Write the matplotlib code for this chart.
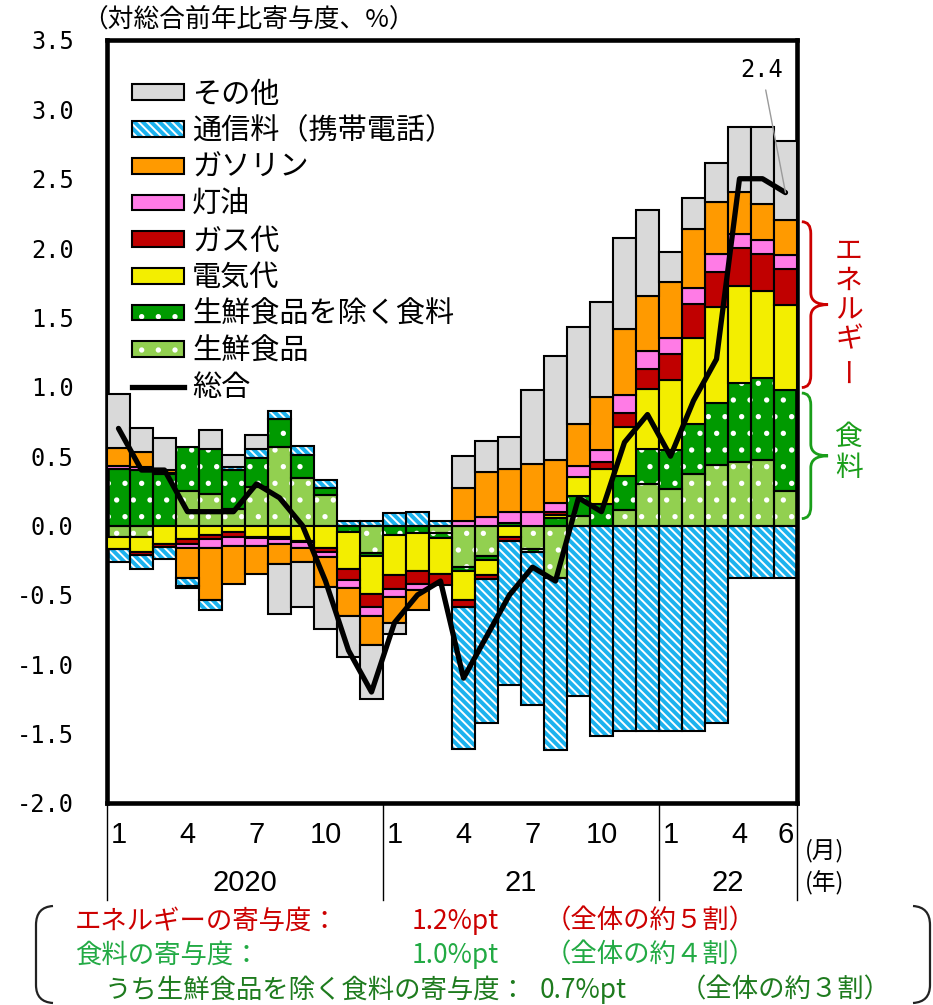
import matplotlib
matplotlib.use('Agg')
import matplotlib.pyplot as plt
import matplotlib.transforms as mtransforms
from matplotlib import font_manager
from matplotlib.patches import Patch, PathPatch
from matplotlib.lines import Line2D
from matplotlib.path import Path
from matplotlib.legend_handler import HandlerTuple
import numpy as np

plt.rcParams['font.family'] = ['Noto Sans CJK JP', 'DejaVu Sans']
plt.rcParams['hatch.linewidth'] = 1.4

# 2020/1 - 2022/6, contributions to headline CPI (%pt)
month_ticks = [0, 3, 6, 9, 12, 15, 18, 21, 24, 27, 29]
month_labels = ['1', '4', '7', '10', '1', '4', '7', '10', '1', '4', '6']
year_labels = ['2020', '21', '22']
year_bounds = [0, 12, 24, 30]

fresh_food = [-0.08, -0.08, 0.0, 0.25, 0.23, 0.12, 0.28, 0.565, 0.34, 0.22,
              0.0, -0.20, 0.0, 0.0, -0.055, -0.30, -0.22, 0.0, -0.17, -0.38,
              0.07, 0.0, 0.11, 0.30, 0.265, 0.37, 0.435, 0.46, 0.47, 0.25]
food_ex_fresh = [0.41, 0.40, 0.37, 0.315, 0.32, 0.28, 0.21, 0.205, 0.17, 0.05,
                 -0.05, -0.02, -0.065, -0.055, -0.035, -0.03, -0.03, 0.02, -0.02, 0.055,
                 0.145, 0.155, 0.25, 0.253, 0.276, 0.36, 0.445, 0.57, 0.595, 0.725]
electricity = [-0.09, -0.11, -0.13, -0.10, -0.07, -0.05, -0.08, -0.08, -0.11, -0.16,
               -0.26, -0.27, -0.29, -0.27, -0.26, -0.21, -0.105, -0.085, 0.0, 0.02,
               0.135, 0.25, 0.35, 0.433, 0.505, 0.625, 0.695, 0.70, 0.625, 0.615]
city_gas = [0.0, -0.025, -0.025, -0.03, -0.025, -0.035, -0.01, -0.015, -0.01, -0.03,
            -0.08, -0.10, -0.10, -0.095, -0.075, -0.05, -0.03, -0.03, 0.0, 0.02,
            0.0, 0.05, 0.10, 0.144, 0.193, 0.24, 0.255, 0.27, 0.27, 0.26]
kerosene = [0.02, 0.02, 0.01, -0.03, -0.07, -0.065, -0.06, -0.035, -0.04, -0.04,
            -0.06, -0.06, -0.06, -0.045, 0.0, 0.03, 0.06, 0.075, 0.096, 0.065,
            0.08, 0.09, 0.13, 0.128, 0.115, 0.12, 0.125, 0.10, 0.10, 0.10]
gasoline = [0.13, 0.11, 0.02, -0.22, -0.375, -0.27, -0.20, -0.145, -0.105, -0.215,
            -0.20, -0.21, -0.19, -0.145, 0.0, 0.24, 0.325, 0.315, 0.35, 0.31,
            0.30, 0.38, 0.48, 0.394, 0.40, 0.42, 0.375, 0.305, 0.26, 0.25]
mobile = [-0.095, -0.095, -0.085, -0.055, -0.07, 0.025, 0.06, 0.055, 0.065, 0.06,
          0.035, 0.035, 0.09, 0.095, 0.03, -1.02, -1.035, -1.035, -1.10, -1.24,
          -1.23, -1.52, -1.48, -1.48, -1.48, -1.48, -1.42, -0.38, -0.38, -0.38]
other = [0.39, 0.17, 0.23, -0.015, 0.14, 0.08, 0.10, -0.36, -0.325, -0.30,
         -0.30, -0.39, -0.08, 0.0, 0.0, 0.23, 0.225, 0.23, 0.53, 0.755,
         0.70, 0.685, 0.655, 0.625, 0.216, 0.225, 0.28, 0.465, 0.55, 0.57]
headline = [0.7, 0.4, 0.4, 0.1, 0.1, 0.1, 0.3, 0.2, 0.0, -0.4,
            -0.9, -1.2, -0.7, -0.5, -0.4, -1.1, -0.8, -0.5, -0.3, -0.4,
            0.2, 0.1, 0.6, 0.8, 0.5, 0.9, 1.2, 2.5, 2.5, 2.4]

DOTS = '.'
STRIPES = '\\\\\\\\'
# stacking order, from the zero line outwards
series = [
    ('生鮮食品', fresh_food, '#92D050', DOTS),
    ('生鮮食品を除く食料', food_ex_fresh, '#009A00', DOTS),
    ('電気代', electricity, '#F3EE00', None),
    ('ガス代', city_gas, '#C00000', None),
    ('灯油', kerosene, '#FF7BE6', None),
    ('ガソリン', gasoline, '#FF9A00', None),
    ('通信料（携帯電話）', mobile, '#1CB2EE', STRIPES),
    ('その他', other, '#D9D9D9', None),
]

RED = '#CC0000'
GREEN = '#1A9E1A'
LIGHT_GREEN_TXT = '#22AA44'
DARK_GREEN_TXT = '#1E7B1E'

W, H = 933, 1005


def fig_xy(px, py):
    return px / W, 1 - py / H


def pick_font(names, default):
    for name in names:
        try:
            font_manager.findfont(font_manager.FontProperties(family=name),
                                  fallback_to_default=False)
            return name
        except ValueError:
            continue
    return default


narrow_font = pick_font(['Liberation Sans Narrow', 'Liberation Sans'], 'DejaVu Sans')
mono_font = pick_font(['DejaVu Sans Mono'], 'DejaVu Sans')

fig = plt.figure(figsize=(W / 100, H / 100), dpi=100)
ax = fig.add_axes([107 / W, 1 - 803 / H, 690 / W, 763 / H])

x = np.arange(len(headline))
pos_base = np.zeros(len(x))
neg_base = np.zeros(len(x))
handles = {}
for label, vals, color, hatch in series:
    v = np.array(vals, dtype=float)
    bottoms = np.where(v >= 0, pos_base, neg_base)
    keep = v != 0
    if hatch:
        ax.bar(x[keep], v[keep], width=1.0, bottom=bottoms[keep], color=color,
               edgecolor='white', hatch=hatch, linewidth=0, zorder=2)
        ax.bar(x[keep], v[keep], width=1.0, bottom=bottoms[keep], fill=False,
               edgecolor='black', linewidth=1.5, zorder=3)
        handles[label] = (Patch(facecolor=color, edgecolor='white', hatch=hatch, linewidth=0),
                          Patch(facecolor='none', edgecolor='black', linewidth=1.5))
    else:
        ax.bar(x[keep], v[keep], width=1.0, bottom=bottoms[keep], color=color,
               edgecolor='black', linewidth=1.5, zorder=3)
        handles[label] = Patch(facecolor=color, edgecolor='black', linewidth=1.5)
    pos_base = np.where(v >= 0, pos_base + v, pos_base)
    neg_base = np.where(v < 0, neg_base + v, neg_base)

ax.axhline(0, color='black', lw=1.2, zorder=3)
ax.plot(x, headline, color='black', lw=3.8, solid_joinstyle='round',
        solid_capstyle='round', zorder=5)
handles['総合'] = Line2D([], [], color='black', lw=3.8)

ax.set_xlim(-0.5, len(x) - 0.5)
ax.set_ylim(-2.0, 3.5)
yt = np.arange(-2.0, 3.51, 0.5)
ax.set_yticks(yt)
ax.set_yticklabels([f'{t:.1f}' for t in yt], fontfamily=mono_font, fontsize=17)
ax.tick_params(axis='y', length=0, pad=24)
ax.set_xticks([])
for s in ax.spines.values():
    s.set_linewidth(3.3)

order = ['その他', '通信料（携帯電話）', 'ガソリン', '灯油', 'ガス代', '電気代',
         '生鮮食品を除く食料', '生鮮食品', '総合']
ax.legend([handles[k] for k in order], order, loc='upper left',
          bbox_to_anchor=(0.036, 0.948), frameon=False, fontsize=21,
          handlelength=1.78, handleheight=0.45, handletextpad=0.28,
          labelspacing=0.23, borderpad=0, borderaxespad=0,
          handler_map={tuple: HandlerTuple(ndivide=1, pad=0)})

# month / year axis below the frame
bt = mtransforms.blended_transform_factory(ax.transData, ax.transAxes)
for pos, lab in zip(month_ticks, month_labels):
    ax.text(pos, -0.042, lab, transform=bt, ha='center', va='center',
            fontsize=21, fontfamily=narrow_font)
for i, lab in enumerate(year_labels):
    mid = (year_bounds[i] + year_bounds[i + 1]) / 2 - 0.5
    ax.text(mid, -0.105, lab, transform=bt, ha='center', va='center',
            fontsize=21, fontfamily=narrow_font)
for b in year_bounds:
    ax.plot([b - 0.5, b - 0.5], [0, -0.127], transform=bt, color='black',
            lw=1.0, clip_on=False)
ax.text(1.011, -0.063, '(月)', transform=ax.transAxes, ha='left', va='center', fontsize=17)
ax.text(1.011, -0.105, '(年)', transform=ax.transAxes, ha='left', va='center', fontsize=17)

fig.text(*fig_xy(82, 20), '（対総合前年比寄与度、%）', ha='left', va='center', fontsize=18.5)

# latest value label
ax.annotate(f'{headline[-1]:.1f}', xy=(x[-1], headline[-1]),
            xytext=(0.949, 0.961), textcoords='axes fraction',
            ha='center', va='center', fontsize=17, fontfamily=mono_font,
            arrowprops=dict(arrowstyle='-', color='#9A9A9A', lw=1.0,
                            shrinkA=4, shrinkB=0), zorder=6)

# braces for energy / food in the latest month
last = len(x) - 1
food_top = fresh_food[last] + food_ex_fresh[last]
energy_top = food_top + electricity[last] + city_gas[last] + kerosene[last] + gasoline[last]
br = mtransforms.blended_transform_factory(ax.transAxes, ax.transData)


def brace(y_top, y_bot, color):
    x0, x1, x2 = 1.007, 1.020, 1.045
    mid = (y_top + y_bot) / 2
    r = 0.085
    verts = [(x0, y_top), (x1, y_top), (x1, y_top - r),
             (x1, mid + r),
             (x1, mid), (x2, mid),
             (x1, mid), (x1, mid - r),
             (x1, y_bot + r),
             (x1, y_bot), (x0, y_bot)]
    codes = [Path.MOVETO, Path.CURVE3, Path.CURVE3,
             Path.LINETO,
             Path.CURVE3, Path.CURVE3,
             Path.CURVE3, Path.CURVE3,
             Path.LINETO,
             Path.CURVE3, Path.CURVE3]
    ax.add_patch(PathPatch(Path(verts, codes), transform=br, fill=False,
                           edgecolor=color, lw=2.0, clip_on=False))


brace(energy_top - 0.01, food_top + 0.02, RED)
brace(food_top - 0.02, 0.05, GREEN)

energy_chars = ['エ', 'ネ', 'ル', 'ギ', 'ー']
for i, ch in enumerate(energy_chars):
    fig.text(*fig_xy(849, 251 + i * 29.5), ch, ha='center', va='center',
             fontsize=20, color=RED, rotation=90 if ch == 'ー' else 0)
for i, ch in enumerate(['食', '料']):
    fig.text(*fig_xy(849, 437 + i * 31), ch, ha='center', va='center',
             fontsize=20, color=GREEN)

# summary box
energy_pt = energy_top - food_top
rows = [
    (921, RED, [(75, 'エネルギーの寄与度：'), (412, f'{energy_pt:.1f}%pt'), (545, '（全体の約５割）')]),
    (955, LIGHT_GREEN_TXT, [(75, '食料の寄与度：'), (412, f'{food_top:.1f}%pt'), (545, '（全体の約４割）')]),
    (990, DARK_GREEN_TXT, [(105, 'うち生鮮食品を除く食料の寄与度：'),
                           (540, f'{food_ex_fresh[last]:.1f}%pt'), (680, '（全体の約３割）')]),
]
for py, color, parts in rows:
    for px, txt in parts:
        fig.text(*fig_xy(px, py), txt, ha='left', va='center', fontsize=19, color=color)


def bracket(x_end, x_side):
    pts = [(x_end, 906), (x_side, 907), (x_side, 925), (x_side, 985),
           (x_side, 1002), (x_end, 1003)]
    verts = [fig_xy(*p) for p in pts]
    codes = [Path.MOVETO, Path.CURVE3, Path.CURVE3, Path.LINETO,
             Path.CURVE3, Path.CURVE3]
    fig.add_artist(PathPatch(Path(verts, codes), transform=fig.transFigure,
                             fill=False, edgecolor='#222222', lw=1.6))


bracket(53, 36)
bracket(913, 930)

fig.savefig('out.png', dpi=100)
